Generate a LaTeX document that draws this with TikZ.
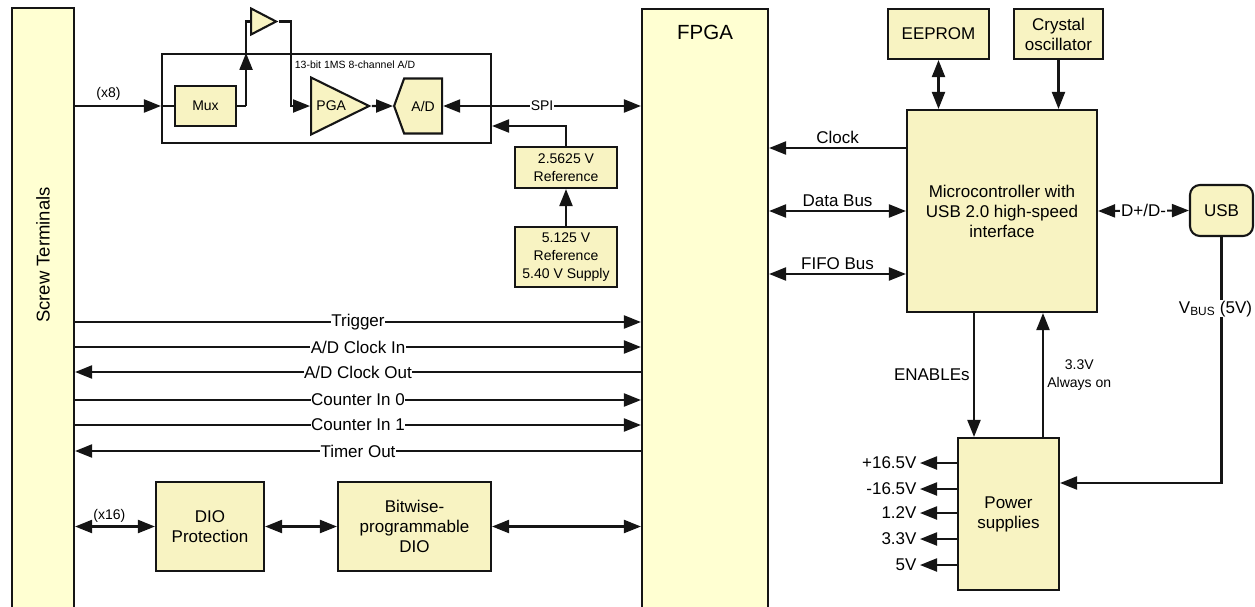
\documentclass[tikz,border=0pt]{standalone}
\usepackage{fontspec}
\setmainfont{Liberation Sans}
\usetikzlibrary{shapes.geometric, shapes.symbols, arrows.meta, positioning, calc}
\definecolor{dqCream}{HTML}{F8F3C2}
\definecolor{dqPale}{HTML}{FFFFD2}
\definecolor{dqLine}{HTML}{151515}

\begin{document}
\begin{tikzpicture}[
  x=1pt, y=-1pt,
  font=\fontsize{17}{20}\selectfont,
  blk/.style={draw=dqLine, fill=dqCream, line width=2.1pt, align=center, inner sep=2pt},
  big/.style={draw=dqLine, fill=dqPale, line width=2.1pt},
  small/.style={font=\fontsize{14}{18}\selectfont},
  tiny/.style={font=\fontsize{10.5}{12}\selectfont},
  lbl/.style={fill=white, inner sep=0.6pt},
  wire/.style={draw=dqLine, line width=2.1pt},
  arr/.style={wire, -{Triangle[length=17pt,width=13pt]}},
  dbl/.style={wire, {Triangle[length=17pt,width=13pt]}-{Triangle[length=17pt,width=13pt]}},
]
\useasboundingbox (0,0) rectangle (1255,606);

% ---------------- Khối lớn ----------------
\node[big, minimum width=62pt, minimum height=612pt] (scr) at (43,314) {};
\node[rotate=90, font=\fontsize{18.5}{22}\selectfont] (scrlbl) at (43,255) {Screw Terminals};
\node[big, minimum width=126pt, minimum height=612pt] (fpga) at (705,315) {};
\node[font=\fontsize{20.5}{24}\selectfont] (fpgalbl) at (705,32) {FPGA};

% ---------------- Khối A/D ----------------
\node[draw=dqLine, fill=white, line width=2.1pt, minimum width=329pt, minimum height=89pt] (adbox) at (326.5,98.5) {};
\node[tiny] (adlbl) at (355,65) {13-bit 1MS 8-channel A/D};
\node[blk, small, minimum width=61pt, minimum height=40pt] (mux) at (205.5,106) {Mux};
\node[blk, isosceles triangle, isosceles triangle stretches, minimum width=26pt, minimum height=25pt,
      inner sep=0pt, anchor=west] (buf) at (250,21.5) {};
\node[blk, small, isosceles triangle, isosceles triangle stretches, minimum width=57pt, minimum height=58pt,
      inner sep=1pt, anchor=west] (pga) at (310,106) {PGA};
\node[blk, small, signal, signal to=west, signal pointer angle=140, minimum width=48pt, minimum height=55pt,
      inner sep=1pt, anchor=west] (adc) at (393,106) {A/D};
\node[blk, small, minimum width=102pt, minimum height=41pt] (ref2) at (566,167.5) {2.5625 V\\Reference};
\node[blk, small, minimum width=102pt, minimum height=60pt] (ref5) at (566,257) {5.125 V\\Reference\\5.40 V Supply};

% ---------------- DIO ----------------
\node[blk, minimum width=108pt, minimum height=89pt] (prot) at (210,526.5) {DIO\\Protection};
\node[blk, minimum width=153pt, minimum height=89pt] (bitdio) at (414.5,526.5) {Bitwise-\\programmable\\DIO};

% ---------------- Vi điều khiển / nguồn ----------------
\node[blk, minimum width=101pt, minimum height=50pt] (eeprom) at (938.5,34) {EEPROM};
\node[blk, minimum width=89pt, minimum height=50pt] (xtal) at (1058.5,34) {Crystal\\oscillator};
\node[blk, minimum width=190pt, minimum height=202pt] (mcu) at (1002,211) {Microcontroller with\\USB 2.0 high-speed\\interface};
\node[blk, rounded corners=10pt, minimum width=63pt, minimum height=51pt] (usb) at (1221.5,210.5) {USB};
\node[blk, minimum width=101pt, minimum height=152pt] (psu) at (1008.5,514) {Power\\supplies};

\node[anchor=east] (vp) at (920,463) {+16.5V};
\node[anchor=east] (vm) at (920,489) {-16.5V};
\node[anchor=east] (v12) at (920,513) {1.2V};
\node[anchor=east] (v33) at (920,539) {3.3V};
\node[anchor=east] (v5) at (920,565) {5V};

% ---------------- Đường tín hiệu A/D ----------------
\draw[arr] (scr.east |- mux.west) -- node[small, above=1pt, pos=0.39]{(x8)} (adbox.west |- mux.west);
\draw[wire] (adbox.west |- mux.west) -- (mux.west);
\coordinate (tap) at ([xshift=9pt]mux.east);
\draw[wire] (mux.east) -- (tap);
\draw[arr] (tap) -- (tap |- adbox.north);
\draw[wire] (tap |- adbox.north) |- (buf.west);
\draw[arr] (buf.east) -- ++(12,0) |- (pga.west);
\draw[arr] (pga.east) -- (adc.west);
\draw[dbl] (adc.east) -- node[lbl, small]{SPI} (fpga.west |- adc.east);
\coordinate (refin) at (adbox.east |- 0,126);
\draw[arr] (ref2.north) |- (refin);
\draw[arr] (ref5.north) -- (ref2.south);

% ---------------- Terminal <-> FPGA ----------------
\draw[arr] (scr.east |- 0,322) -- node[lbl]{Trigger} (fpga.west |- 0,322);
\draw[arr] (scr.east |- 0,347) -- node[lbl]{A/D Clock In} (fpga.west |- 0,347);
\draw[arr] (fpga.west |- 0,372) -- node[lbl]{A/D Clock Out} (scr.east |- 0,372);
\draw[arr] (scr.east |- 0,400) -- node[lbl]{Counter In 0} (fpga.west |- 0,400);
\draw[arr] (scr.east |- 0,425) -- node[lbl]{Counter In 1} (fpga.west |- 0,425);
\draw[arr] (fpga.west |- 0,451) -- node[lbl]{Timer Out} (scr.east |- 0,451);

\draw[dbl] (scr.east |- prot.west) -- node[small, above, pos=0.43]{(x16)} (prot.west);
\draw[dbl] (prot.east) -- (bitdio.west);
\draw[dbl] (bitdio.east) -- (fpga.west |- bitdio.east);

% ---------------- FPGA <-> vi điều khiển ----------------
\draw[arr] (mcu.west |- 0,148) -- node[above]{Clock} (fpga.east |- 0,148);
\draw[dbl] (fpga.east |- mcu.west) -- node[above]{Data Bus} (mcu.west);
\draw[dbl] (fpga.east |- 0,274) -- node[above]{FIFO Bus} (mcu.west |- 0,274);
\draw[dbl] (eeprom.south) -- (eeprom.south |- mcu.north);
\draw[arr] (xtal.south) -- (xtal.south |- mcu.north);
\draw[dbl] (mcu.east) -- node[lbl]{D+/D-} (usb.west);

% ---------------- Nguồn ----------------
\coordinate (vin) at ([yshift=31pt]psu.east);
\draw[arr] (usb.south) |- node[lbl, pos=0.146, xshift=-6pt]{V\textsubscript{BUS} (5V)} (vin);
\coordinate (en) at ([xshift=-34.5pt]psu.north);
\coordinate (aon) at ([xshift=34.5pt]psu.north);
\draw[arr] (en |- mcu.south) -- node[left]{ENABLEs} (en);
\draw[arr] (aon) -- node[right, small, align=center]{3.3V\\Always on} (aon |- mcu.south);
\draw[arr] (psu.west |- vp) -- (vp.east);
\draw[arr] (psu.west |- vm) -- (vm.east);
\draw[arr] (psu.west |- v12) -- (v12.east);
\draw[arr] (psu.west |- v33) -- (v33.east);
\draw[arr] (psu.west |- v5) -- (v5.east);
\end{tikzpicture}
\end{document}
